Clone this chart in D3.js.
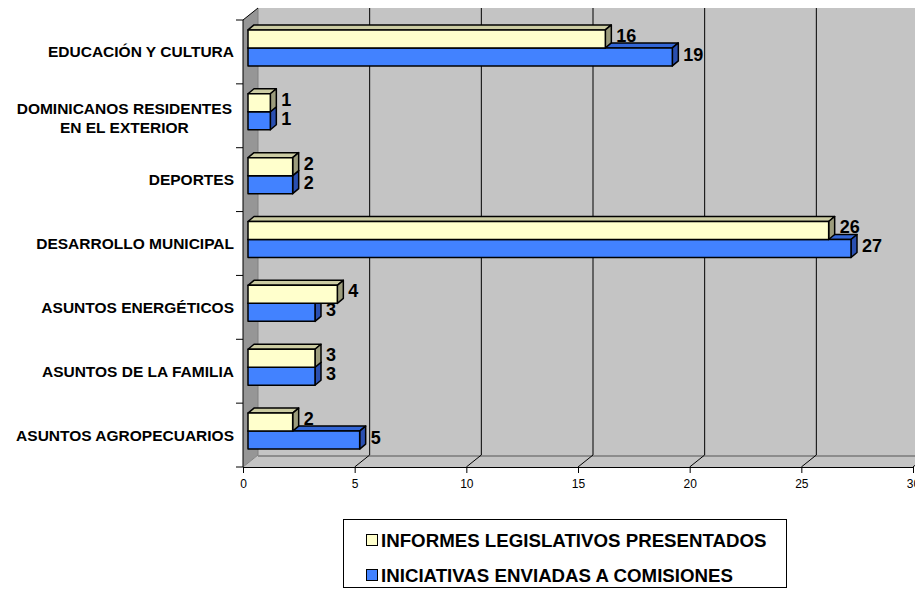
<!DOCTYPE html>
<html><head><meta charset="utf-8">
<script src="https://cdn.jsdelivr.net/npm/d3@7"></script>
<style>body{margin:0;background:#fff}svg{display:block}</style>
</head><body>
<script>
const categories = ["EDUCACIÓN Y CULTURA","DOMINICANOS RESIDENTES|EN EL EXTERIOR","DEPORTES","DESARROLLO MUNICIPAL","ASUNTOS ENERGÉTICOS","ASUNTOS DE LA FAMILIA","ASUNTOS AGROPECUARIOS"];
const informes = [16,1,2,26,4,3,2];
const iniciativas = [19,1,2,27,3,3,5];
const seriesNames = ["INFORMES LEGISLATIVOS PRESENTADOS","INICIATIVAS ENVIADAS A COMISIONES"];
const xTicks = [0,5,10,15,20,25,30];

const W=915,H=589;
const svg=d3.select("body").append("svg").attr("width",W).attr("height",H);
const font="Liberation Sans, Arial, sans-serif";
const x0=243, x1=913, yTop=20, yBot=467;
const DX=15, DY=-12;      // box depth
const BDX=6, BDY=-5;      // bar depth
const BOX=5, BOY=-4;      // bar offset inside the box
const x=d3.scaleLinear().domain([0,30]).range([x0,x1]);
const y=d3.scaleBand().domain(categories).range([yTop,yBot]).paddingInner(0.436).paddingOuter(0.218);
const step=y.step();

// walls
svg.append("polygon").attr("points",[[x0+DX,yTop+DY],[x1+DX,yTop+DY],[x1+DX,yBot+DY],[x0+DX,yBot+DY]].join(" ")).attr("fill","#c4c4c4");
svg.append("polygon").attr("points",[[x0,yTop],[x0+DX,yTop+DY],[x0+DX,yBot+DY],[x0,yBot]].join(" ")).attr("fill","#969696");
svg.append("polygon").attr("points",[[x0,yBot],[x0+DX,yBot+DY],[x1+DX,yBot+DY],[x1,yBot]].join(" ")).attr("fill","#c4c4c4");
svg.append("line").attr("x1",x0+DX).attr("x2",x1+DX).attr("y1",yBot+DY+1).attr("y2",yBot+DY+1).attr("stroke","#8c8c8c").attr("stroke-width",2);
// gridlines
xTicks.forEach(t=>{
  if(t===0){
    svg.append("line").attr("x1",x(t)+DX).attr("x2",x(t)+DX).attr("y1",yTop+DY).attr("y2",yBot+DY).attr("stroke","#808080").attr("stroke-width",1);
    return;
  }
  svg.append("line").attr("x1",x(t)+DX).attr("x2",x(t)+DX).attr("y1",yTop+DY).attr("y2",yBot+DY).attr("stroke","#000").attr("stroke-width",1);
  svg.append("line").attr("x1",x(t)).attr("x2",x(t)+DX).attr("y1",yBot).attr("y2",yBot+DY).attr("stroke","#000").attr("stroke-width",1);
});
svg.append("line").attr("x1",x0).attr("x2",x0+DX).attr("y1",yTop).attr("y2",yTop+DY).attr("stroke","#000").attr("stroke-width",1);
svg.append("line").attr("x1",x0).attr("x2",x0+DX).attr("y1",yBot).attr("y2",yBot+DY).attr("stroke","#808080").attr("stroke-width",1);

// axes
const xAxis=d3.axisBottom(x).tickValues(xTicks).tickSize(6).tickPadding(6);
const gx=svg.append("g").attr("transform",`translate(0,${yBot})`).call(xAxis);
gx.select(".domain").attr("stroke","#000").attr("d",`M${x0},0.5H${x1}`);
gx.selectAll(".tick line").attr("stroke","#000");
gx.selectAll("text").attr("font-family",font).attr("font-size",12).attr("fill","#000");
const yEdges=d3.range(categories.length+1).map(i=>yTop+i*step);
svg.append("line").attr("x1",x0).attr("x2",x0).attr("y1",yTop).attr("y2",yBot).attr("stroke","#000");
yEdges.forEach(v=>svg.append("line").attr("x1",x0-7).attr("x2",x0).attr("y1",v).attr("y2",v).attr("stroke","#000"));

// category labels
const catSize=15.5;
categories.forEach(c=>{
  const cy=y(c)-y.step()*y.paddingOuter()+step/2;
  const lines=c.split("|");
  const t=svg.append("text").attr("font-family",font).attr("font-weight","bold").attr("font-size",catSize).attr("fill","#000");
  if(lines.length===1){
    t.attr("text-anchor","end").attr("x",234).attr("y",cy+5.5).text(c);
  } else {
    t.attr("text-anchor","middle");
    const spans=lines.map((l,i)=>t.append("tspan").attr("y",cy+2+5.5+(i-(lines.length-1)/2)*18.5).text(l));
    const maxW=d3.max(spans,s=>s.node().getComputedTextLength());
    spans.forEach(s=>s.attr("x",232-maxW/2));
  }
});

// bars
const bh=y.bandwidth()/2;
function bar3d(v,top,fill,topFill,sideFill){
  const xa=x(0)+BOX, xb=x(v)+BOX, ya=top, yb=top+bh;
  const g=svg.append("g").attr("stroke","#000").attr("stroke-width",1.5).attr("stroke-linejoin","round");
  g.append("polygon").attr("points",[[xa,ya],[xa+BDX,ya+BDY],[xb+BDX,ya+BDY],[xb,ya]].join(" ")).attr("fill",topFill);
  g.append("polygon").attr("points",[[xb,ya],[xb+BDX,ya+BDY],[xb+BDX,yb+BDY],[xb,yb]].join(" ")).attr("fill",sideFill);
  g.append("rect").attr("x",xa).attr("y",ya).attr("width",xb-xa).attr("height",bh).attr("fill",fill);
}
categories.forEach((c,i)=>{
  const top=y(c)+BOY;
  bar3d(iniciativas[i],top+bh,"#4282ff","#3366d6","#2a4fb0");
  bar3d(informes[i],top,"#ffffcc","#cccca3","#9c9c7c");
});
categories.forEach((c,i)=>{
  const top=y(c)+BOY;
  [[informes[i],top,-0.5],[iniciativas[i],top+bh,0.5]].forEach(([v,t,d])=>{
    svg.append("text").attr("x",x(v)+BOX+11).attr("y",t+bh/2-3+6.4+d).attr("font-family",font).attr("font-weight","bold").attr("font-size",18).attr("fill","#000").text(v);
  });
});

// legend
const lg=svg.append("g");
lg.append("rect").attr("x",343.5).attr("y",519.5).attr("width",443).attr("height",68).attr("fill","#fff").attr("stroke","#000");
const legColors=["#ffffcc","#4282ff"];
seriesNames.forEach((s,i)=>{
  const cy=540+i*35;
  lg.append("rect").attr("x",366.5).attr("y",cy-5.5).attr("width",11).attr("height",11).attr("fill",legColors[i]).attr("stroke","#000").attr("stroke-width",1);
  lg.append("text").attr("x",381).attr("y",cy+6.7).attr("font-family",font).attr("font-weight","bold").attr("font-size",18.7).attr("fill","#000").text(s);
});
</script>
</body></html>
